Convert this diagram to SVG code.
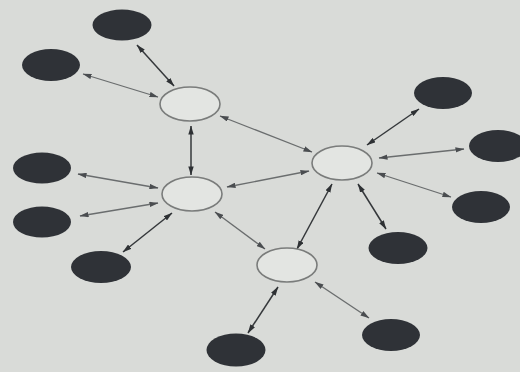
<svg xmlns="http://www.w3.org/2000/svg" width="520" height="372" viewBox="0 0 520 372">
<defs>
<marker id="ah" viewBox="0 0 10 6" refX="9.5" refY="3" markerWidth="9" markerHeight="5.5" markerUnits="userSpaceOnUse" orient="auto-start-reverse">
<path d="M0,0 L10,3 L0,6 Z" fill="#4a4d50"/>
</marker>
<marker id="ahd" viewBox="0 0 10 6" refX="9.5" refY="3" markerWidth="9" markerHeight="5.5" markerUnits="userSpaceOnUse" orient="auto-start-reverse">
<path d="M0,0 L10,3 L0,6 Z" fill="#2e3134"/>
</marker>
</defs>
<style>
.hub{fill:#e3e5e2;stroke:#7a7c7b;stroke-width:1.6}
.leaf{fill:#2f3237}
.c line{stroke:#6a6d6e;stroke-width:1.3;marker-start:url(#ah);marker-end:url(#ah)}
.c line.d{stroke:#35383b;stroke-width:1.5;marker-start:url(#ahd);marker-end:url(#ahd)}
</style>
<rect width="520" height="372" fill="#d9dbd8"/>
<g class="c" id="connectors">
<line x1="137" y1="45" x2="174" y2="86" class="d"/>
<line x1="83" y1="74" x2="158" y2="97"/>
<line x1="191" y1="126" x2="191" y2="175" class="d"/>
<line x1="220" y1="116" x2="312" y2="152"/>
<line x1="227" y1="187" x2="309" y2="171"/>
<line x1="367" y1="145" x2="419" y2="109" class="d"/>
<line x1="379" y1="158" x2="464" y2="149"/>
<line x1="377" y1="173" x2="451" y2="197"/>
<line x1="358" y1="184" x2="386" y2="229" class="d"/>
<line x1="332" y1="184" x2="297" y2="249" class="d"/>
<line x1="78" y1="174" x2="158" y2="188"/>
<line x1="80" y1="216" x2="158" y2="203"/>
<line x1="172" y1="213" x2="123" y2="252" class="d"/>
<line x1="215" y1="212" x2="265" y2="249"/>
<line x1="278" y1="287" x2="248" y2="333" class="d"/>
<line x1="315" y1="282" x2="369" y2="318"/>
</g>
<g id="hubA"><ellipse class="hub" cx="190" cy="104" rx="30" ry="17"/></g>
<g id="hubB"><ellipse class="hub" cx="342" cy="163" rx="30" ry="17"/></g>
<g id="hubC"><ellipse class="hub" cx="192" cy="194" rx="30" ry="17"/></g>
<g id="hubD"><ellipse class="hub" cx="287" cy="265" rx="30" ry="17"/></g>
<g id="leaf1"><ellipse class="leaf" cx="122" cy="25" rx="29.5" ry="15.5"/></g>
<g id="leaf2"><ellipse class="leaf" cx="51" cy="65" rx="29" ry="16"/></g>
<g id="leaf3"><ellipse class="leaf" cx="443" cy="93" rx="29" ry="16"/></g>
<g id="leaf4"><ellipse class="leaf" cx="498" cy="146" rx="29" ry="16"/></g>
<g id="leaf5"><ellipse class="leaf" cx="481" cy="207" rx="29" ry="16"/></g>
<g id="leaf6"><ellipse class="leaf" cx="398" cy="248" rx="29.5" ry="16"/></g>
<g id="leaf7"><ellipse class="leaf" cx="42" cy="168" rx="29" ry="15.5"/></g>
<g id="leaf8"><ellipse class="leaf" cx="42" cy="222" rx="29" ry="15.5"/></g>
<g id="leaf9"><ellipse class="leaf" cx="101" cy="267" rx="30" ry="16"/></g>
<g id="leaf10"><ellipse class="leaf" cx="236" cy="350" rx="29.5" ry="16.5"/></g>
<g id="leaf11"><ellipse class="leaf" cx="391" cy="335" rx="29" ry="16"/></g>
</svg>
